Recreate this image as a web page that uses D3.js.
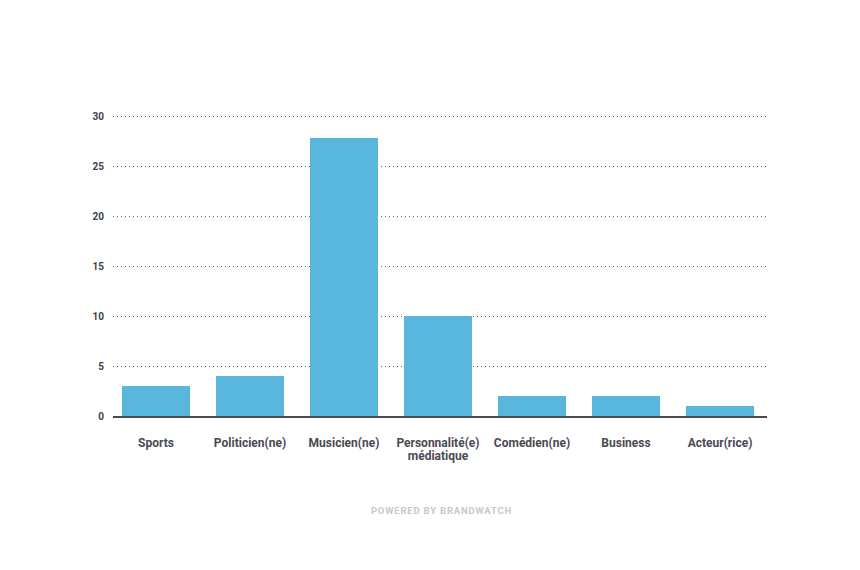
<!DOCTYPE html>
<html>
<head>
<meta charset="utf-8">
<script src="https://cdn.jsdelivr.net/npm/d3@7"></script>
<style>
  body { margin: 0; background: #fff; }
  svg { display: block; font-family: Roboto, "Noto Sans", sans-serif; }
</style>
</head>
<body>
<svg id="chart" width="860" height="570"></svg>
<script>
const categories = ["Sports", "Politicien(ne)", "Musicien(ne)", "Personnalité(e) médiatique", "Comédien(ne)", "Business", "Acteur(rice)"];
const categoryLines = [["Sports"], ["Politicien(ne)"], ["Musicien(ne)"], ["Personnalité(e)", "médiatique"], ["Comédien(ne)"], ["Business"], ["Acteur(rice)"]];
const values = [3, 4, 27.8, 10, 2, 2, 1];
const yTicks = [0, 5, 10, 15, 20, 25, 30];
const footerText = "POWERED BY BRANDWATCH";

(function () {
const svg = d3.select("#chart");
const gridLeft = 113, gridRight = 767;
const plotTop = 116, plotBottom = 416;

const x = d3.scaleBand()
  .domain(categories)
  .range([109, 767])
  .paddingInner(26 / 94)
  .paddingOuter(13 / 94);

const y = d3.scaleLinear().domain([0, 30]).range([plotBottom, plotTop]);

// gridlines
svg.append("g").selectAll("line")
  .data(yTicks.filter(d => d !== 0))
  .join("line")
  .attr("x1", gridLeft).attr("x2", gridRight)
  .attr("y1", d => y(d) + 0.5).attr("y2", d => y(d) + 0.5)
  .attr("stroke", "#666")
  .attr("stroke-width", 1)
  .attr("stroke-dasharray", "1,3");

// y axis labels
const yAxis = d3.axisLeft(y).tickValues(yTicks).tickSize(0).tickPadding(0);
const yg = svg.append("g").attr("transform", "translate(104,0)").call(yAxis);
yg.select(".domain").remove();
yg.selectAll("text")
  .attr("fill", "#3f3f48")
  .attr("font-size", "10px")
  .attr("font-weight", "bold")
  .attr("font-family", "Roboto, sans-serif");

// bars
svg.append("g").selectAll("rect")
  .data(values)
  .join("rect")
  .attr("x", (d, i) => x(categories[i]))
  .attr("width", x.bandwidth())
  .attr("y", d => y(d))
  .attr("height", d => y(0) - y(d))
  .attr("fill", "#59b6dd");

// baseline
svg.append("line")
  .attr("x1", gridLeft).attr("x2", gridRight)
  .attr("y1", plotBottom + 1).attr("y2", plotBottom + 1)
  .attr("stroke", "#4a4a55")
  .attr("stroke-width", 2);

// x labels
const xg = svg.append("g");
categoryLines.forEach((lines, i) => {
  const cx = x(categories[i]) + x.bandwidth() / 2;
  const t = xg.append("text")
    .attr("x", cx)
    .attr("y", 447)
    .attr("text-anchor", "middle")
    .attr("fill", "#4a4a52")
    .attr("font-size", "12px")
    .attr("font-weight", "bold");
  lines.forEach((ln, j) => {
    t.append("tspan").attr("x", cx).attr("dy", j === 0 ? 0 : 13).text(ln);
  });
});

// footer
svg.append("text")
  .attr("x", 441.5)
  .attr("y", 514)
  .attr("text-anchor", "middle")
  .attr("fill", "#c8c8c8")
  .attr("font-size", "9.5px")
  .attr("font-weight", "bold")
  .attr("letter-spacing", "0.8px")
  .text(footerText);
})();
</script>
</body>
</html>
